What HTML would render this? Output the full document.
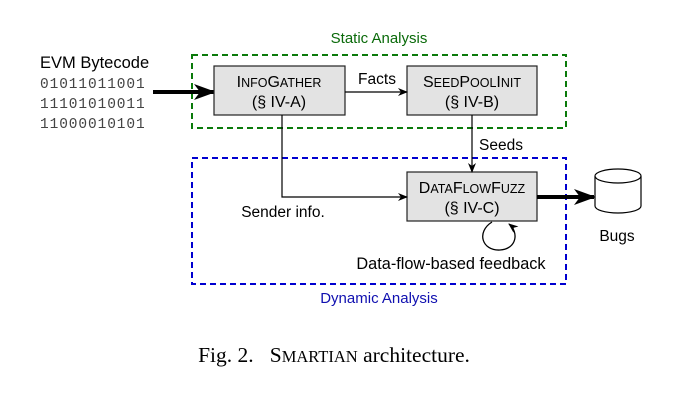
<!DOCTYPE html>
<html><head><style>
body{margin:0;background:#fff;}
svg{display:block;}
.s{font-family:"Liberation Sans",sans-serif;}
.m{font-family:"Liberation Mono",monospace;}
.r{font-family:"Liberation Serif",serif;}
</style></head><body>
<svg width="694" height="405" viewBox="0 0 694 405" xmlns="http://www.w3.org/2000/svg">
<defs>
<marker id="a" markerWidth="10" markerHeight="8" refX="9" refY="4" orient="auto" markerUnits="userSpaceOnUse"><path d="M0,0 L10,4 L0,8 L3,4 z" fill="#000"/></marker>
<marker id="b" markerWidth="22" markerHeight="16" refX="20" refY="8" orient="auto" markerUnits="userSpaceOnUse"><path d="M0,0 L22,8 L0,16 L6,8 z" fill="#000"/></marker>
</defs>
<rect x="192" y="55" width="374" height="73" fill="none" stroke="#0a7a0a" stroke-width="2" stroke-dasharray="6,4"/>
<rect x="192" y="158" width="374" height="126" fill="none" stroke="#0000d0" stroke-width="2" stroke-dasharray="6,4"/>
<text x="379" y="43" class="s" font-size="15" fill="#0a6a0a" text-anchor="middle">Static Analysis</text>
<text x="379" y="303" class="s" font-size="15" fill="#1010b0" text-anchor="middle">Dynamic Analysis</text>
<text x="40" y="68" class="s" font-size="16.5">EVM Bytecode</text>
<text x="40" y="88" class="m" font-size="14.5" fill="#444" letter-spacing="0.9">01011011001</text>
<text x="40" y="108" class="m" font-size="14.5" fill="#444" letter-spacing="0.9">11101010011</text>
<text x="40" y="128" class="m" font-size="14.5" fill="#444" letter-spacing="0.9">11000010101</text>
<line x1="153" y1="92" x2="214" y2="92" stroke="#000" stroke-width="4" marker-end="url(#b)"/>
<rect x="214" y="66" width="131" height="49" fill="#e3e3e3" stroke="#222" stroke-width="1.2"/>
<text x="279" y="87" class="s" font-size="16" text-anchor="middle">I<tspan font-size="12.5">NFO</tspan>G<tspan font-size="12.5">ATHER</tspan></text>
<text x="279" y="107" class="s" font-size="16" text-anchor="middle">(§ IV-A)</text>
<rect x="407" y="66" width="130" height="49" fill="#e3e3e3" stroke="#222" stroke-width="1.2"/>
<text x="472" y="87" class="s" font-size="16" text-anchor="middle">S<tspan font-size="12.5">EED</tspan>P<tspan font-size="12.5">OOL</tspan>I<tspan font-size="12.5">NIT</tspan></text>
<text x="472" y="107" class="s" font-size="16" text-anchor="middle">(§ IV-B)</text>
<rect x="407" y="172" width="130" height="49" fill="#e3e3e3" stroke="#222" stroke-width="1.2"/>
<text x="472" y="193" class="s" font-size="16" text-anchor="middle">D<tspan font-size="12.5">ATA</tspan>F<tspan font-size="12.5">LOW</tspan>F<tspan font-size="12.5">UZZ</tspan></text>
<text x="472" y="213" class="s" font-size="16" text-anchor="middle">(§ IV-C)</text>
<line x1="345" y1="92" x2="407" y2="92" stroke="#000" stroke-width="1.2" marker-end="url(#a)"/>
<text x="377" y="84" class="s" font-size="15.5" text-anchor="middle">Facts</text>
<line x1="472" y1="115" x2="472" y2="172" stroke="#000" stroke-width="1.2" marker-end="url(#a)"/>
<text x="479" y="150" class="s" font-size="15.5">Seeds</text>
<polyline points="282,115 282,197 407,197" fill="none" stroke="#000" stroke-width="1.2" marker-end="url(#a)"/>
<text x="283" y="217" class="s" font-size="15.5" text-anchor="middle">Sender info.</text>
<line x1="537" y1="197" x2="594" y2="197" stroke="#000" stroke-width="4" marker-end="url(#b)"/>
<path d="M595,176 L595,206 A23,7 0 0 0 641,206 L641,176" fill="#fff" stroke="#000" stroke-width="1.2"/>
<ellipse cx="618" cy="176" rx="23" ry="7" fill="#fff" stroke="#000" stroke-width="1.2"/>
<text x="617" y="241" class="s" font-size="15.5" text-anchor="middle">Bugs</text>
<path d="M492,222 C476,232 482,251 500,250 C517,249 519,232 509,224" fill="none" stroke="#000" stroke-width="1.3" marker-end="url(#a)"/>
<text x="451" y="269" class="s" font-size="16.3" text-anchor="middle">Data-flow-based feedback</text>
<text x="334" y="362" class="r" font-size="21.5" text-anchor="middle" xml:space="preserve" style="white-space:pre">Fig. 2.   S<tspan font-size="16.5">MARTIAN</tspan> architecture.</text>
</svg>
</body></html>
